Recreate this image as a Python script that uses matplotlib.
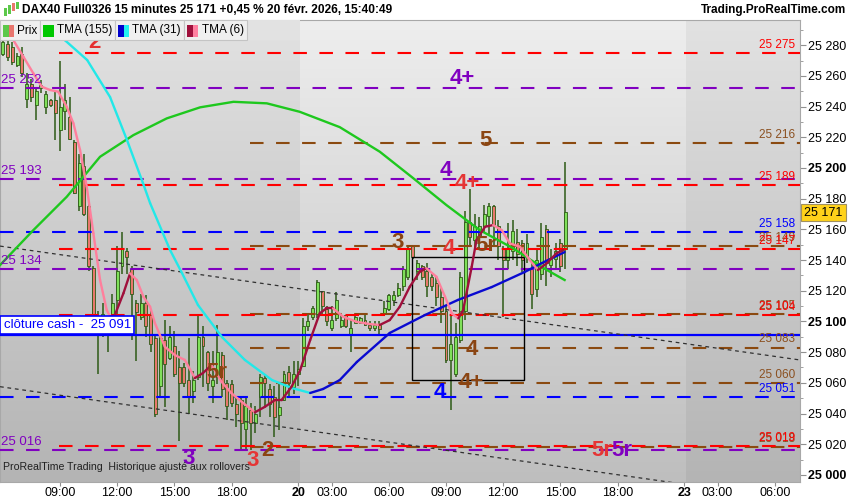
import numpy as np
import matplotlib.pyplot as plt
import matplotlib.colors as mcolors
from matplotlib.patches import Rectangle

plt.rcParams['font.family'] = ['Liberation Sans', 'DejaVu Sans']

# 15 minute bars, index 0 = 19 Feb 01:15 (sessions 01:15 - 21:30)
bar_idx = list(range(19, 138))
opens = [25274, 25281, 25279, 25267, 25274, 25245, 25255, 25241, 25252, 25240,
         25244, 25244, 25225, 25237, 25233, 25217, 25175, 25201, 25175, 25135,
         25103, 25098, 25100, 25105, 25114, 25136, 25146, 25134, 25112, 25103,
         25112, 25104, 25089, 25058, 25088, 25076, 25084, 25070, 25070, 25062,
         25055, 25064, 25090, 25080, 25058, 25064, 25078, 25060, 25059, 25046,
         25049, 25030, 25042, 25034, 25051, 25063, 25056, 25051, 25039, 25049,
         25067, 25057, 25066, 25071, 25097, 25103, 25105, 25120, 25108, 25096,
         25102, 25097, 25104, 25091, 25099, 25099, 25101, 25098, 25096, 25098,
         25105, 25108, 25114, 25117, 25123, 25129, 25149, 25133, 25136, 25133,
         25129, 25125, 25116, 25107, 25075, 25066, 25088, 25107, 25165, 25153,
         25155, 25162, 25169, 25175, 25162, 25147, 25140, 25146, 25152, 25151,
         25142, 25134, 25121, 25131, 25160, 25137, 25141, 25151, 25147]
highs = [25283, 25284, 25282, 25275, 25279, 25262, 25258, 25253, 25257, 25250,
         25245, 25250, 25270, 25255, 25246, 25218, 25209, 25209, 25177, 25136,
         25107, 25112, 25103, 25118, 25149, 25158, 25148, 25136, 25114, 25118,
         25117, 25108, 25092, 25092, 25101, 25097, 25094, 25081, 25073, 25089,
         25068, 25104, 25097, 25081, 25081, 25098, 25080, 25062, 25062, 25051,
         25051, 25051, 25047, 25045, 25066, 25065, 25059, 25058, 25060, 25068,
         25071, 25074, 25074, 25102, 25105, 25110, 25127, 25120, 25110, 25110,
         25119, 25104, 25104, 25101, 25104, 25103, 25104, 25100, 25100, 25100,
         25113, 25118, 25120, 25125, 25136, 25149, 25150, 25140, 25137, 25138,
         25131, 25129, 25122, 25110, 25105, 25099, 25132, 25172, 25186, 25170,
         25168, 25176, 25177, 25176, 25166, 25149, 25164, 25166, 25160, 25153,
         25157, 25140, 25147, 25164, 25163, 25147, 25151, 25154, 25204]
lows = [25273, 25270, 25267, 25266, 25259, 25239, 25243, 25231, 25249, 25235,
        25240, 25218, 25211, 25225, 25218, 25183, 25172, 25169, 25133, 25103,
        25066, 25090, 25080, 25103, 25103, 25131, 25131, 25088, 25074, 25101,
        25090, 25080, 25038, 25051, 25044, 25075, 25064, 25022, 25057, 25040,
        25047, 25062, 25057, 25055, 25047, 25059, 25051, 25036, 25044, 25031,
        25016, 25016, 25016, 25027, 25038, 25045, 25038, 25025, 25029, 25048,
        25051, 25053, 25058, 25071, 25094, 25101, 25102, 25105, 25097, 25094,
        25100, 25096, 25096, 25080, 25099, 25099, 25097, 25094, 25094, 25091,
        25104, 25107, 25110, 25116, 25120, 25127, 25141, 25127, 25127, 25116,
        25120, 25110, 25099, 25073, 25042, 25064, 25086, 25101, 25149, 25147,
        25147, 25158, 25157, 25149, 25140, 25103, 25134, 25140, 25136, 25132,
        25138, 25108, 25116, 25127, 25123, 25129, 25134, 25132, 25134]
closes = [25282, 25272, 25269, 25273, 25262, 25255, 25246, 25250, 25254, 25248,
          25241, 25236, 25240, 25244, 25219, 25184, 25203, 25170, 25136, 25104,
          25098, 25105, 25093, 25112, 25133, 25148, 25142, 25118, 25106, 25112,
          25097, 25085, 25040, 25089, 25072, 25090, 25066, 25060, 25060, 25051,
          25062, 25090, 25084, 25060, 25062, 25080, 25056, 25045, 25047, 25040,
          25034, 25045, 25034, 25040, 25064, 25060, 25046, 25038, 25044, 25066,
          25060, 25066, 25069, 25097, 25100, 25109, 25126, 25110, 25100, 25101,
          25114, 25101, 25097, 25096, 25103, 25102, 25098, 25096, 25098, 25095,
          25109, 25117, 25117, 25122, 25134, 25147, 25142, 25138, 25129, 25123,
          25123, 25116, 25107, 25075, 25085, 25090, 25129, 25165, 25155, 25162,
          25162, 25170, 25175, 25163, 25149, 25140, 25147, 25159, 25144, 25140,
          25151, 25118, 25140, 25155, 25138, 25141, 25146, 25136, 25171]

# TMA (155)
tma155_x = [18.4, 25.4, 32.4, 39.4, 46.4, 53.4, 60.4, 67.4, 74.4, 81.3, 89.7,
            98.1, 105.1, 112.1, 119.1, 126.0, 132.0, 136.9]
tma155_y = [25136.7, 25159.5, 25181.2, 25207.3, 25221.4, 25232.3, 25239.5,
            25243.1, 25242.1, 25236.6, 25226.6, 25210.6, 25193.4, 25175.8,
            25159.5, 25147.8, 25135.6, 25127.0]
# TMA (31)
tma31_x = [28.9, 32.0, 36.7, 41.5, 45.05, 48.4, 49.9, 54.1, 56.6, 59.95, 65.0,
           69.8, 75.5, 79.7, 83.5, 86.2, 89.7, 93.3, 100.2, 107.6, 114.5, 121.6,
           128.5, 132.1, 136.9]
tma31_y = [25289.9, 25283.3, 25270.3, 25246.2, 25218.2, 25190.2, 25177.1,
           25146.5, 25131.5, 25110.7, 25089.8, 25074.9, 25061.8, 25056.6,
           25053.4, 25056.0, 25061.8, 25073.6, 25092.5, 25104.2, 25114.0,
           25122.4, 25132.2, 25138.0, 25145.2]
# TMA (6)
tma6_x = [21.2, 23.3, 25.4, 27.2, 28.9, 30.6, 32.4, 33.8, 35.2, 36.6,
          38.0, 39.4, 40.8, 41.5, 42.5, 44.3, 45.7, 47.1, 48.5, 49.9,
          50.9, 53.0, 55.1, 57.2, 59.3, 61.0, 62.8, 64.9, 67.0, 69.1,
          71.9, 74.0, 76.1, 77.5, 79.6, 81.4, 83.5, 85.5, 86.9, 88.3,
          90.4, 93.2, 96.0, 98.1, 100.2, 102.3, 104.4, 106.5, 107.9, 110.0,
          111.8, 113.2, 114.6, 115.6, 117.4, 118.4, 120.2, 121.9, 123.7, 125.4,
          127.5, 129.6, 131.3, 133.1, 135.2, 136.6]
tma6_y = [25283.3, 25272.5, 25261.6, 25252.9, 25250.8, 25249.7, 25239.9, 25229.1, 25211.7, 25187.8,
          25157.4, 25127.0, 25107.4, 25103.1, 25104.2, 25118.3, 25131.3, 25127.0, 25116.1, 25109.6,
          25099.0, 25083.5, 25078.1, 25074.9, 25063.1, 25066.4, 25071.6, 25060.7, 25053.2, 25047.7,
          25040.8, 25044.4, 25048.8, 25048.8, 25057.5, 25068.3, 25087.9, 25105.3, 25108.5, 25108.5,
          25103.1, 25099.8, 25098.3, 25097.7, 25100.9, 25109.6, 25122.6, 25132.4, 25134.6, 25129.1,
          25116.1, 25105.3, 25102.0, 25107.4, 25135.6, 25153.0, 25161.7, 25162.8, 25159.5, 25150.9,
          25148.7, 25140.0, 25133.5, 25137.8, 25144.4, 25146.5]

# horizontal levels
purple_levels = [25252, 25193, 25134, 25016]
red_levels = [25275, 25189, 25147, 25104, 25019]
brown_levels = [25216, 25149, 25105, 25083, 25060, 25018]
blue_levels = [25158, 25051]
cash_close = 25091
last_price = 25171

# drawn trend lines / box (bar index, price)
trend_x = [18.4, 186.3]
trend_upper = [25149.1, 25074.9]
trend_lower = [25057.5, 24983.2]
box_x = [104.85, 128.35]
box_y = [25061.8, 25142.0]

# wave labels: text, colour, bar index, price
wave_labels = [
    ('2', '#e53030', 38.3, 25282.0),
    ('4+', '#8000c0', 115.5, 25258.6),
    ('5', '#8b4513', 120.2, 25218.2),
    ('4', '#8000c0', 112.0, 25198.6),
    ('4+', '#e53535', 116.4, 25190.2),
    ('3', '#8b4513', 101.9, 25151.7),
    ('4', '#e53535', 112.6, 25147.8),
    ('5r', '#8b4513', 120.4, 25149.8),
    ('4', '#8b4513', 117.4, 25082.0),
    ('4+', '#8b4513', 117.4, 25059.9),
    ('4', '#0000ff', 110.7, 25054.0),
    ('5r', '#8b4513', 63.9, 25067.0),
    ('3', '#8000c0', 57.9, 25011.0),
    ('3', '#e53535', 71.5, 25009.7),
    ('2', '#8b4513', 74.6, 25016.2),
    ('5r', '#e53535', 144.7, 25016.2),
    ('5r', '#8000c0', 148.9, 25016.2),
]

# session starts (bar index) and time ticks
day_start = {'19': 0, '20': 81, '23': 162}
time_ticks = [('19', 9), ('19', 12), ('19', 15), ('19', 18),
              ('20', None), ('20', 3), ('20', 6), ('20', 9), ('20', 12), ('20', 15), ('20', 18),
              ('23', None), ('23', 3), ('23', 6)]

PURPLE, RED, BROWN, BLUE = '#8000c0', '#ff0000', '#8b4a10', '#0000ff'
W, H = 850, 500

def fmt(v):
    return f"{int(v):,}".replace(',', ' ')

def fpx(x, y):
    return x / W, 1 - y / H

fig = plt.figure(figsize=(8.5, 5), dpi=100)
fig.patch.set_facecolor('white')
ax = fig.add_axes([0, 18 / H, 800 / W, 462 / H])
x0, x1 = 18.4, 186.3
y0, y1 = 24995.4, 25296.4

# background bands, vertical gradient
grad = np.linspace(0, 1, 256)[:, None, None]
def band(xa, xb, top, bottom):
    t = np.array(mcolors.to_rgb(top)); b = np.array(mcolors.to_rgb(bottom))
    img = t + (b - t) * grad
    ax.imshow(img, extent=(xa, xb, y0, y1), origin='upper', aspect='auto',
              zorder=0, interpolation='bilinear')
band(x0, 81.3, '#e2e2e2', '#b4b4b4')
band(81.3, 162.3, '#eeeeee', '#bebebe')
band(162.3, x1, '#e2e2e2', '#b4b4b4')

# levels
dash = (6.5, 6)
for v in purple_levels:
    ax.plot([x0, x1], [v, v], color=PURPLE, lw=1.5, dashes=dash, zorder=3)
    ax.annotate(fmt(v), (x0 + 0.3, v), xytext=(0, 1.5), textcoords='offset points',
                color=PURPLE, fontsize=9.5, ha='left', va='bottom', zorder=6)
for v in blue_levels:
    ax.plot([x0, x1], [v, v], color=BLUE, lw=1.5, dashes=dash, zorder=3)
for v in brown_levels:
    ax.plot([70.9, x1], [v, v], color=BROWN, lw=1.5, dashes=dash, zorder=3)
for v in red_levels:
    ax.plot([30.8, x1], [v, v], color=RED, lw=1.5, dashes=dash, zorder=3)
for levels, col in [(brown_levels, '#8b5020'), (red_levels, RED), (blue_levels, BLUE)]:
    for v in levels:
        ax.annotate(fmt(v), (185.3, v), xytext=(0, 1.5), textcoords='offset points',
                    color=col, fontsize=8.5, ha='right', va='bottom', zorder=6)
ax.plot([x0, x1], [cash_close, cash_close], color=BLUE, lw=1.6, zorder=3)
ax.annotate('clôture cash -  ' + fmt(cash_close), (x0 + 0.2, cash_close), xytext=(2, 3),
            textcoords='offset points', color=BLUE, fontsize=9.5, ha='left', va='bottom',
            bbox=dict(boxstyle='square,pad=0.25', fc='white', ec=BLUE, lw=1.2), zorder=7)

# trend lines and box
ax.plot(trend_x, trend_upper, color='#303030', lw=0.9, dashes=(3, 3), zorder=3)
ax.plot(trend_x, trend_lower, color='#303030', lw=0.9, dashes=(3, 3), zorder=3)
ax.add_patch(Rectangle((box_x[0], box_y[0]), box_x[1] - box_x[0], box_y[1] - box_y[0],
                       fill=False, ec='black', lw=1.0, zorder=4))

# candles
o = np.array(opens); c = np.array(closes)
idx = np.array(bar_idx)
ax.vlines(idx, lows, highs, color='#2d5a16', lw=1.1, zorder=2)
ax.bar(idx, np.maximum(np.abs(c - o), 0.8), bottom=np.minimum(o, c), width=0.62,
       color=np.where(c >= o, '#7fe05a', '#e8786c'), edgecolor='#2d5a16',
       linewidth=0.6, zorder=2.5)

# moving averages
ax.plot(tma155_x, tma155_y, color='#1ec81e', lw=1.7, zorder=4)
def two_colour(xs, ys, down, up):
    for j in range(len(xs) - 1):
        col = down if ys[j + 1] < ys[j] else up
        ax.plot(xs[j:j + 2], ys[j:j + 2], color=col, lw=1.7, zorder=4,
                solid_capstyle='round')
two_colour(tma31_x, tma31_y, '#22e8e8', '#0a0ad0')
two_colour(tma6_x, tma6_y, '#ff7f9c', '#a0103c')

# wave labels
for txt, col, xi, yv in wave_labels:
    ax.text(xi, yv, txt, color=col, fontsize=16, fontweight='bold',
            ha='center', va='center', zorder=6)

ax.set_xlim(x0, x1)
ax.set_ylim(y0, y1)

# axes styling
for s in ax.spines.values():
    s.set_color('#a8a8a8'); s.set_linewidth(0.8)
ax.yaxis.tick_right()
yt = list(range(25000, 25281, 20))
ax.set_yticks(yt)
ax.set_yticklabels([fmt(v) for v in yt])
ax.set_yticks(list(range(25010, 25291, 20)), minor=True)
for lab, v in zip(ax.get_yticklabels(), yt):
    if v % 100 == 0:
        lab.set_fontweight('bold'); lab.set_fontsize(9.5)
ax.tick_params(axis='y', which='major', length=4, color='#909090', labelsize=9, pad=2)
ax.tick_params(axis='y', which='minor', length=2, color='#909090')

xt, xl = [], []
for day, hr in time_ticks:
    if hr is None:
        xt.append(day_start[day]); xl.append(day)
    else:
        xt.append(day_start[day] + (hr - 1.25) * 4); xl.append(f"{hr:02d}:00")
ax.set_xticks(xt)
ax.set_xticklabels(xl)
for lab in ax.get_xticklabels():
    if ':' not in lab.get_text():
        lab.set_fontweight('bold'); lab.set_fontsize(10)
ax.tick_params(axis='x', length=3, color='#909090', labelsize=9, pad=0.5)

# current price tag
tx, ty = fpx(801, 221)
fig.add_artist(Rectangle((tx, ty), 45 / W, 17 / H, transform=fig.transFigure,
                         fc='#ffd21a', ec='#a09060', lw=0.8, zorder=5))
fig.text(*fpx(823.5, 212.5), fmt(last_price), fontsize=9, ha='center', va='center', zorder=6)

# header
fig.text(*fpx(22, 10), 'DAX40 Full0326 15 minutes 25 171 +0,45 % 20 févr. 2026, 15:40:49',
         fontsize=8.6, fontweight='bold', ha='left', va='center')
fig.text(*fpx(846, 10), 'Trading.ProRealTime.com', fontsize=8.5, fontweight='bold',
         ha='right', va='center')
for xx, yy, hh, col in [(4, 8, 8, '#5cc84a'), (8, 5, 9, '#5cc84a'), (12, 3, 8, '#e8786c'), (16, 2, 7, '#5cc84a')]:
    fig.add_artist(Rectangle(fpx(xx, yy + hh), 2.5 / W, hh / H, transform=fig.transFigure,
                             fc=col, ec='none'))

# legend bar
fig.add_artist(Rectangle(fpx(0, 40), 300 / W, 20 / H, transform=fig.transFigure,
                         fc='#e2e2e2', ec='none', zorder=8))
cells = [(0, 39.5, ['#5cc84a', '#e8766e'], 'Prix'),
         (39.5, 115, ['#00c800'], 'TMA (155)'),
         (115, 184, ['#0000cd', '#22f0f0'], 'TMA (31)'),
         (184, 246.5, ['#a0103c', '#ff7fa0'], 'TMA (6)')]
for xa, xb, cols, name in cells:
    fig.add_artist(Rectangle(fpx(xa, 40), (xb - xa) / W, 20 / H, transform=fig.transFigure,
                             fc='#efefef', ec='#c4c4c4', lw=0.8, zorder=8))
    sx = xa + 3
    if len(cols) == 1:
        fig.add_artist(Rectangle(fpx(sx, 36.5), 11 / W, 11.5 / H, transform=fig.transFigure,
                                 fc=cols[0], ec='none', zorder=9))
        sx += 11
    else:
        for col in cols:
            fig.add_artist(Rectangle(fpx(sx, 36.5), 5.5 / W, 11.5 / H, transform=fig.transFigure,
                                     fc=col, ec='none', zorder=9))
            sx += 5.5
    fig.text(*fpx(sx + 3.5, 30.5), name, fontsize=8.5, ha='left', va='center', zorder=9)

fig.text(*fpx(3, 467), 'ProRealTime Trading  Historique ajusté aux rollovers',
         fontsize=7.6, color='#202020', ha='left', va='center', zorder=9)

fig.savefig('out.png', dpi=100)
